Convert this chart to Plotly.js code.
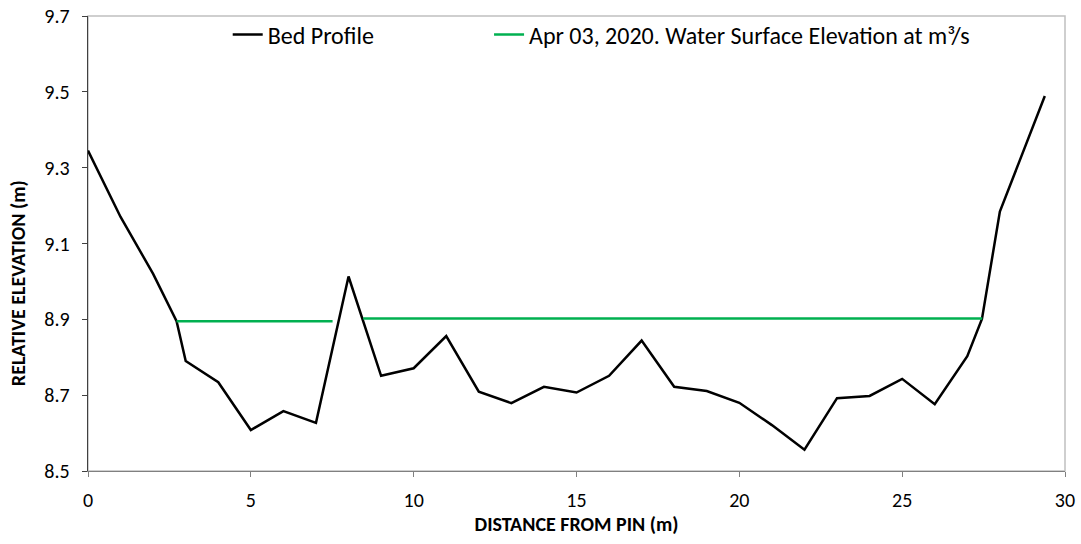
<!DOCTYPE html>
<html>
<head>
<meta charset="utf-8">
<script src="https://cdn.plot.ly/plotly-3.0.1.min.js"></script>
<style>html,body{margin:0;padding:0;background:#fff;}#chart{width:1081px;height:544px;}</style>
</head>
<body>
<div id="chart"></div>
<script>
const bedDistance = [0, 1, 2, 2.72, 3, 4, 5, 6, 7, 8, 9, 10, 11, 12, 13, 14, 15, 16, 17, 18, 19, 20, 21, 22, 23, 24, 25, 26, 27, 27.45, 28, 29.38];
const bedElevation = [9.345, 9.17, 9.02, 8.895, 8.79, 8.734, 8.608, 8.658, 8.627, 9.013, 8.751, 8.771, 8.856, 8.709, 8.679, 8.722, 8.707, 8.751, 8.844, 8.722, 8.711, 8.680, 8.621, 8.556, 8.692, 8.698, 8.743, 8.676, 8.803, 8.901, 9.184, 9.489];
const wseDistance = [2.72, 7.51, null, 8.45, 27.46];
const wseElevation = [8.895, 8.895, null, 8.902, 8.902];
const seriesNames = ["Bed Profile", "Apr 03, 2020. Water Surface Elevation at m³/s"];
const xTicks = [0, 5, 10, 15, 20, 25, 30];
const yTicks = [8.5, 8.7, 8.9, 9.1, 9.3, 9.5, 9.7];
const xTitle = "DISTANCE FROM PIN (m)";
const yTitle = "RELATIVE ELEVATION (m)";

const font = "Carlito, Lato, 'Open Sans', sans-serif";

const traces = [
  {x: bedDistance, y: bedElevation, name: seriesNames[0], mode: 'lines', type: 'scatter',
   legend: 'legend', line: {color: '#000000', width: 2.5}},
  {x: wseDistance, y: wseElevation, name: seriesNames[1], mode: 'lines', type: 'scatter',
   legend: 'legend2', connectgaps: false, line: {color: '#00B050', width: 2.5}}
];

const legendBase = {orientation: 'h', y: 1.008, xanchor: 'left', yanchor: 'top',
  font: {family: font, size: 24, color: '#000000'}, bgcolor: 'rgba(0,0,0,0)'};

const layout = {
  width: 1081, height: 544,
  margin: {l: 88, r: 16, t: 16, b: 73},
  paper_bgcolor: '#ffffff', plot_bgcolor: '#ffffff',
  font: {family: font, color: '#000000', size: 18},
  showlegend: true,
  legend: Object.assign({}, legendBase, {x: 0.143}),
  legend2: Object.assign({}, legendBase, {x: 0.4105}),
  xaxis: {range: [0, 30], tickvals: xTicks, ticktext: xTicks.map(String),
    showgrid: false, zeroline: false, showline: true, linecolor: '#808080', linewidth: 1.3,
    ticks: 'outside', ticklen: 5, tickcolor: '#808080', ticklabelstandoff: 6,
    tickfont: {family: font, size: 20, color: '#000000'},
    title: {text: '<b>' + xTitle + '</b>', standoff: 3, font: {family: font, size: 20, color: '#000000'}}},
  yaxis: {range: [8.5, 9.7], tickvals: yTicks, ticktext: yTicks.map(v => v.toFixed(1)),
    showgrid: false, zeroline: false, showline: true, linecolor: '#404040', linewidth: 1.3,
    ticks: 'outside', ticklen: 5, tickcolor: '#404040', ticklabelstandoff: 8,
    tickfont: {family: font, size: 20, color: '#000000'}},
  annotations: [{text: '<b>' + yTitle + '</b>', textangle: -90, showarrow: false,
    xref: 'paper', yref: 'paper', x: -0.0716, y: 0.413, xanchor: 'center', yanchor: 'middle',
    font: {family: font, size: 20, color: '#000000'}}],
  shapes: [{type: 'rect', xref: 'paper', yref: 'paper', x0: 0, x1: 1, y0: 0, y1: 1,
    line: {color: '#c0c0c0', width: 1.5}, layer: 'below'}]
};

Plotly.newPlot('chart', traces, layout, {displayModeBar: false, staticPlot: true});
</script>
</body>
</html>
